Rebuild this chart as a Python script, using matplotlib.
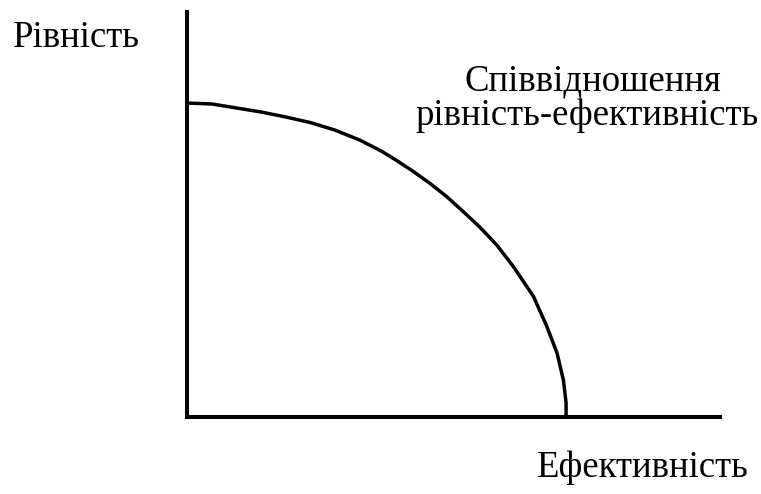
import matplotlib
matplotlib.use("Agg")
import matplotlib.pyplot as plt

# Curve (efficiency, equality), in relative units
efficiency = [0, 6.6, 12.7, 19.3, 25.9, 32.5, 39.0, 45.6, 51.4, 55.3, 59.7,
              64.1, 68.5, 72.9, 77.3, 81.7, 86.1, 91.4, 94.9, 97.6, 99.3,
              100, 100]
equality = [100, 99.7, 98.5, 97.2, 95.6, 93.8, 91.4, 88.2, 84.6, 81.7, 78.2,
            74.4, 70.2, 65.4, 60.4, 54.8, 47.9, 38.4, 28.9, 20.4, 11.7,
            4.5, 0]

y_label = "Рівність"
x_label = "Ефективність"
curve_label_1 = "Співвідношення"
curve_label_2 = "рівність-ефективність"

W, H = 761, 494
fig = plt.figure(figsize=(W / 100, H / 100), dpi=100)
ax = fig.add_axes([187 / W, (H - 417) / H, 533 / W, 405 / H])
ax.set_xlim(0, 140.6)
ax.set_ylim(0, 129)
for s in ("top", "right"):
    ax.spines[s].set_visible(False)
for s in ("left", "bottom"):
    ax.spines[s].set_linewidth(2.9)
    ax.spines[s].set_color("black")
    ax.spines[s].set_capstyle("projecting")
ax.set_xticks([])
ax.set_yticks([])

ax.plot(efficiency, equality, color="black", lw=2.5, clip_on=False,
        solid_capstyle="butt", solid_joinstyle="round")

font = dict(family="Liberation Serif", fontsize=26.5, color="black")
fig.text(13 / W, 1 - 47 / H, y_label, ha="left", va="baseline", **font)
fig.text(593 / W, 1 - 90 / H, curve_label_1, ha="center", va="baseline", **font)
fig.text(587 / W, 1 - 125 / H, curve_label_2, ha="center", va="baseline", **font)
fig.text(643 / W, 1 - 477 / H, x_label, ha="center", va="baseline", **font)

fig.savefig("out.png", dpi=100, facecolor="white")
